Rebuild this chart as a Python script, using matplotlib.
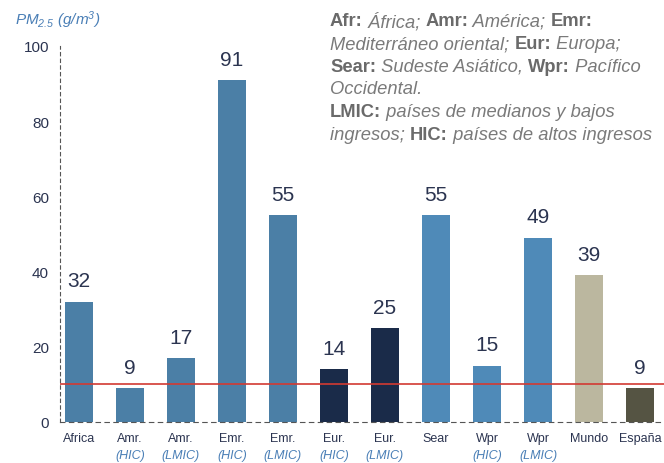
import numpy as np
import matplotlib.pyplot as plt

plt.rcParams['font.family'] = ['Liberation Sans', 'DejaVu Sans']
plt.rcParams['mathtext.fontset'] = 'custom'
plt.rcParams['mathtext.rm'] = 'Liberation Sans:italic'
plt.rcParams['mathtext.it'] = 'Liberation Sans:italic'

# Data
regions = ['Africa', 'Amr.', 'Amr.', 'Emr.', 'Emr.', 'Eur.', 'Eur.',
           'Sear', 'Wpr', 'Wpr', 'Mundo', 'España']
income = ['', '(HIC)', '(LMIC)', '(HIC)', '(LMIC)', '(HIC)', '(LMIC)',
          '', '(HIC)', '(LMIC)', '', '']
pm25 = [32, 9, 17, 91, 55, 14, 25, 55, 15, 49, 39, 9]
who_limit = 10
yticks = [0, 20, 40, 60, 80, 100]

bar_colors = ['#4b7fa6', '#4b7fa6', '#4b7fa6', '#4b7fa6', '#4b7fa6',
              '#1a2b49', '#1a2b49', '#4f8ab8', '#4f8ab8', '#4f8ab8',
              '#bbb79f', '#555443']

dark = '#2b3450'
blue = '#4a7fb6'
grey = '#7a7a7a'

fig = plt.figure(figsize=(6.64, 4.64), dpi=100)
ax = fig.add_axes([60 / 664, 41 / 464, 604 / 664, 376 / 464])

x = np.arange(len(pm25))
ax.bar(x, pm25, width=0.56, color=bar_colors, zorder=2)
ax.axhline(who_limit, color='#d23a32', lw=1.2, zorder=3)

for xi, v in zip(x, pm25):
    ax.text(xi, v + 3, str(v), ha='center', va='bottom', fontsize=15, color=dark)

ax.set_xlim(-0.37, 11.47)
ax.set_ylim(0, 100)
ax.set_yticks(yticks)
ax.set_yticklabels([str(t) for t in yticks], fontsize=11, color=dark)
ax.tick_params(axis='y', length=0, pad=8)
ax.set_xticks([])
for s in ['top', 'right']:
    ax.spines[s].set_visible(False)
ax.spines['left'].set_linestyle((0, (3, 3)))
ax.spines['left'].set_color('#555555')
ax.spines['bottom'].set_linestyle((0, (4, 4)))
ax.spines['bottom'].set_color('#555555')

# category labels (two lines, in pixel rows below the axis)
trans = ax.get_xaxis_transform()
for xi, r, inc in zip(x, regions, income):
    ax.text(xi, -16 / 376, r, transform=trans, ha='center', va='center',
            fontsize=9, color=dark, clip_on=False)
    if inc:
        ax.text(xi, -33 / 376, inc, transform=trans, ha='center', va='center',
                fontsize=9, color=blue, style='italic', clip_on=False)

# axis title
fig.text(15 / 664, 1 - 20 / 464, r'$PM_{2.5}$ (g/m$^3$)', color=blue,
         fontsize=11, style='italic', va='center')

# legend block with mixed bold / italic
legend_lines = [
    [('Afr:', 'bold'), (' África; ', 'italic'), ('Amr:', 'bold'),
     (' América; ', 'italic'), ('Emr:', 'bold')],
    [('Mediterráneo oriental; ', 'italic'), ('Eur:', 'bold'), (' Europa;', 'italic')],
    [('Sear:', 'bold'), (' Sudeste Asiático, ', 'italic'), ('Wpr:', 'bold'),
     (' Pacífico', 'italic')],
    [('Occidental.', 'italic')],
    [('LMIC:', 'bold'), (' países de medianos y bajos', 'italic')],
    [('ingresos; ', 'italic'), ('HIC:', 'bold'), (' países de altos ingresos', 'italic')],
]
fig.canvas.draw()
renderer = fig.canvas.get_renderer()
W = fig.get_figwidth() * fig.dpi
y0 = 22
for i, line in enumerate(legend_lines):
    xpos = 330 / 664
    ypos = 1 - (y0 + i * 22.6) / 464
    for txt, kind in line:
        if kind == 'bold':
            t = fig.text(xpos, ypos, txt, fontsize=13.2, fontweight='bold',
                         color='#6a6a6a', va='center')
        else:
            t = fig.text(xpos, ypos, txt, fontsize=13.2, style='italic',
                         color=grey, va='center')
        bb = t.get_window_extent(renderer)
        xpos += bb.width / W

fig.savefig('out.png', dpi=100)
